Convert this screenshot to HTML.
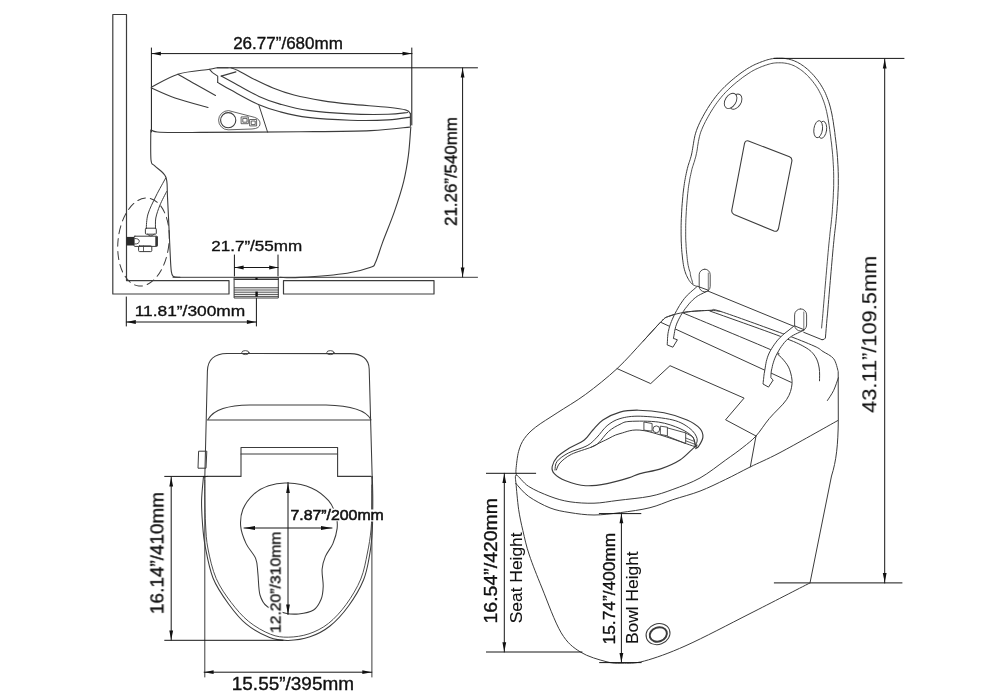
<!DOCTYPE html>
<html><head><meta charset="utf-8"><style>
html,body{margin:0;padding:0;background:#fff;}
svg{display:block;}
.t{opacity:0.999;}
</style></head><body>
<svg width="1000" height="700" viewBox="0 0 1000 700">
<g fill="none" stroke="#3c3c3c" stroke-linecap="round" stroke-linejoin="round">
<path d="M112.8 14.5 L126.5 14.5 L126.5 280.6 L229 280.6 L229 294 L112.8 294Z" stroke-width="1.2" />
<path d="M283.5 280.6 L434 280.6 L434 294 L283.5 294Z" stroke-width="1.2" />
<path d="M234.5 277.5 L278.3 277.5 L278.3 298 L234.5 298Z" stroke-width="1.0" />
<line x1="234.5" y1="279.2" x2="278.3" y2="279.2" stroke-width="1.6" />
<line x1="234.5" y1="287.8" x2="278.3" y2="287.8" stroke-width="1.0" />
<line x1="234.5" y1="290" x2="278.3" y2="290" stroke-width="0.9" />
<line x1="234.5" y1="292.2" x2="278.3" y2="292.2" stroke-width="0.9" />
<line x1="234.5" y1="294.4" x2="278.3" y2="294.4" stroke-width="0.9" />
<line x1="234.5" y1="296.4" x2="278.3" y2="296.4" stroke-width="0.9" />
<rect x="255.4" y="277.2" width="2.2" height="2.6" fill="#111" stroke="none"/>
<rect x="255.4" y="291.6" width="2.4" height="5" fill="#111" stroke="none"/>
<line x1="173" y1="277.3" x2="477.5" y2="277.3" stroke-width="1.0" />
<line x1="151.4" y1="53.6" x2="412" y2="53.6" stroke-width="1.0" stroke="#161616"/>
<path d="M151.4 53.6 L160.9 51.7 L160.9 55.5Z" fill="#111" stroke="none"/>
<path d="M412 53.6 L402.5 51.7 L402.5 55.5Z" fill="#111" stroke="none"/>
<line x1="151.4" y1="48" x2="151.4" y2="132" stroke-width="1.0" stroke="#161616"/>
<line x1="411.8" y1="48" x2="411.8" y2="125" stroke-width="1.0" stroke="#161616"/>
<line x1="217" y1="67.8" x2="477.5" y2="67.8" stroke-width="1.0" stroke="#161616"/>
<line x1="462.6" y1="68" x2="462.6" y2="277" stroke-width="1.0" stroke="#161616"/>
<path d="M462.6 68 L460.7 77.5 L464.5 77.5Z" fill="#111" stroke="none"/>
<path d="M462.6 277 L460.7 267.5 L464.5 267.5Z" fill="#111" stroke="none"/>
<path d="M151.3 87.2C155.8 85 168.3 77.2 178 74.2C187.7 71.2 203 70.4 209.5 69.3C216 68.2 213.9 68 217 67.8C220.1 67.5 226.2 67.8 228 67.8" stroke-width="1.1" />
<path d="M178 74.2C180.8 75.8 188.8 80.5 195 84C201.2 87.5 212.1 93.6 215.5 95.5" stroke-width="1.1" />
<path d="M151.3 88C155.2 89.7 165.6 94.8 175 98C184.4 101.2 202.5 105.9 208 107.5" stroke-width="1.1" />
<path d="M209.5 69.3 L212.5 72.6 L217.7 76.1 L217.7 82.4" stroke-width="1.1" />
<path d="M221.2 76.1 L235.9 71.9" stroke-width="1.1" />
<path d="M231 67.7C232.2 68.2 234.5 68.8 238 70.5C241.5 72.2 246.2 75.3 252 78.2C257.8 81.1 266 85.2 273 88C280 90.8 285.8 92.9 294 95C302.2 97.1 312.7 99.1 322 100.6C331.3 102.1 339 103 350 104.1C361 105.2 378.6 106.3 388 107.3C397.4 108.3 402.5 109 406.2 110.1C409.9 111.1 409.7 113 410.4 113.6" stroke-width="1.1" />
<path d="M221.2 76.1C224 77.6 231.7 81.8 238 85.2C244.3 88.6 252 93.2 259 96.4C266 99.6 271.8 101.8 280 104.1C288.2 106.4 296.3 108.8 308 110.4C319.7 112 336.7 113.2 350 113.9C363.3 114.6 378.4 114.5 388 114.3C397.6 114.1 404.3 112.8 407.6 112.5" stroke-width="1.1" />
<path d="M217.7 82.4C219.9 83.7 224.1 86.4 231 90.1C237.9 93.8 250.8 101.2 259 104.8C267.2 108.4 271.8 109.7 280 111.8C288.2 113.9 296.3 116 308 117.4C319.7 118.8 336.7 119.8 350 120.2C363.3 120.6 377.9 120.4 388 119.9C398.1 119.4 406.7 117.6 410.4 117.1" stroke-width="1.1" />
<line x1="410.4" y1="113.6" x2="410.4" y2="126.2" stroke-width="1.1" />
<path d="M151.3 130C152.8 130.4 151.9 131.8 160 132.2C168.1 132.6 176.7 132.5 200 132.4C223.3 132.3 271.6 132.1 300 131.8C328.4 131.5 352.4 131.4 370.7 130.6C389 129.8 403.1 127.7 409.6 127.1" stroke-width="1.1" />
<line x1="259" y1="105.5" x2="267.6" y2="132.2" stroke-width="1.0" />
<circle cx="228.2" cy="120.2" r="7.6" stroke-width="1.1"/>
<path d="M228.2 110.6 A9.6 9.6 0 0 0 228.2 129.8 L252 129 Q259.8 128.5 260 124 Q260.5 119.5 255 117.5 Z" stroke-width="0.8" />
<rect x="241.5" y="116.9" width="6.8" height="6.8" stroke-width="0.8"/>
<rect x="243.2" y="118.4" width="3.8" height="3.8" stroke-width="0.8"/>
<rect x="250" y="119.5" width="6.6" height="6.4" stroke-width="0.8"/>
<rect x="251.6" y="121" width="3.6" height="3.6" stroke-width="0.8"/>
<path d="M150.8 130C150.8 135 150.4 154.1 151 160C151.6 165.9 152.1 162.8 154.5 165.6C156.9 168.4 163.5 171.5 165.7 176.7C167.9 181.9 166.8 184.8 167.5 197C168.2 209.2 169.4 237.6 170 250C170.6 262.4 170.7 267 171.3 271.4C171.9 275.8 172.1 275.5 173.5 276.5C174.9 277.5 178.9 277.1 180 277.2" stroke-width="1.1" />
<path d="M410.8 127.1C410.4 131.8 409.6 146.4 408.4 155.4C407.2 164.4 406 171.9 403.7 181.3C401.4 190.7 397.8 201.7 394.3 211.9C390.8 222.1 385.6 234.1 382.5 242.6C379.4 251.1 377.4 258.5 375.4 262.6C373.4 266.7 375.4 265.5 370.7 267.3C366 269.1 358.9 271.5 347.1 273.2C335.3 274.9 311.2 276.7 300 277.4C288.8 278.1 283.3 277.4 280 277.4" stroke-width="1.1" />
<path d="M165.7 178C164.1 181 158.9 190 156 196C153.1 202 149.6 208.6 148 214C146.4 219.4 146.5 226.2 146.2 228.7" stroke-width="1.0" />
<path d="M166.6 191.6C165.5 193.8 161.8 200.6 160 205C158.2 209.4 156.6 214.1 155.8 218C155.1 221.9 155.6 226.9 155.5 228.7" stroke-width="1.0" />
<rect x="145.4" y="228.2" width="10.9" height="6" rx="1" stroke-width="1.0"/>
<path d="M147.5 234.2 Q150.8 238 154.2 234.2" stroke-width="0.9" />
<rect x="134.1" y="236.2" width="23.3" height="10.2" rx="0.8" stroke-width="1.0"/>
<rect x="155.3" y="236.4" width="2.2" height="9.8" fill="#333" stroke="none"/>
<path d="M134.8 238.5 Q139.3 238.5 139.3 241.2 Q139.3 244 134.8 244" stroke-width="0.9" />
<rect x="126.4" y="236.9" width="7.7" height="8.6" fill="#2a2a2a" stroke="none"/>
<rect x="138.6" y="245.9" width="13.2" height="5.7" rx="1" stroke-width="1.0"/>
<line x1="143.5" y1="246" x2="143.5" y2="251.5" stroke-width="0.8" />
<ellipse cx="143.5" cy="242" rx="25.5" ry="44.2" stroke-width="1.0" stroke-dasharray="8 5" transform="rotate(6 143.5 242)"/>
<line x1="234.4" y1="255" x2="234.4" y2="276" stroke-width="1.0" stroke="#161616"/>
<line x1="278" y1="255" x2="278" y2="276" stroke-width="1.0" stroke="#161616"/>
<line x1="234.4" y1="267.5" x2="278" y2="267.5" stroke-width="1.0" stroke="#161616"/>
<path d="M234.6 267.5 L243.6 265.4 L243.6 269.6Z" fill="#111" stroke="none"/>
<path d="M278.2 267.5 L269.2 265.4 L269.2 269.6Z" fill="#111" stroke="none"/>
<line x1="126.3" y1="297" x2="126.3" y2="326" stroke-width="1.0" stroke="#161616"/>
<line x1="256.4" y1="298.5" x2="256.4" y2="326" stroke-width="1.0" stroke="#161616"/>
<line x1="126.3" y1="322" x2="256.4" y2="322" stroke-width="1.0" stroke="#161616"/>
<path d="M126.3 322 L135.8 320.1 L135.8 323.9Z" fill="#111" stroke="none"/>
<path d="M256.4 322 L246.9 320.1 L246.9 323.9Z" fill="#111" stroke="none"/>
<path d="M204.8 478 L207.4 371 C207.8 360 214 353.8 227 353.6 L350 353.6 C362 353.8 368.8 359 369.2 369 L372.2 478" stroke-width="1.05" />
<ellipse cx="245.4" cy="352.6" rx="3.6" ry="2" stroke-width="0.9"/>
<ellipse cx="330.4" cy="352.6" rx="3.6" ry="2" stroke-width="0.9"/>
<path d="M208 419.5 C214 409 228 405.5 250 405 L326 405 C348 405.5 366 410 370.8 419.5" stroke-width="1.05" />
<line x1="207.5" y1="420" x2="370.8" y2="420" stroke-width="1.05" />
<path d="M207 476.4 L241 476.4 L241 447.5 L337.6 447.5 L337.6 476.4 L371 476.4" stroke-width="1.1" />
<line x1="241" y1="454" x2="337.6" y2="454" stroke-width="1.1" />
<path d="M199 451.2 L206.8 451.2 L206 468.2 L198.4 468.2Z" stroke-width="1.0" />
<line x1="204.8" y1="476.4" x2="204.8" y2="677" stroke-width="1.0" />
<line x1="371.9" y1="476.4" x2="371.9" y2="677" stroke-width="1.0" />
<path d="M203.5 476.4C203.2 480.3 201.8 491.9 201.6 500C201.4 508.1 202 517.2 202.6 525C203.2 532.8 203.6 538.2 205.3 547C207 555.8 209.2 568.5 213 578C216.8 587.5 222.8 596 228.4 603.7C234 611.4 239.5 618.6 246.4 624.2C253.3 629.9 262.6 634.9 269.6 637.6C276.6 640.3 281.5 640.5 288.2 640.4C294.9 640.3 303 639.2 310 636.8C317 634.4 323.6 631.1 330 626C336.4 620.9 342.9 613.7 348.5 606C354.1 598.3 360 588.5 363.5 580C367 571.5 368.1 563.3 369.6 555C371.1 546.7 371.8 539.2 372.3 530C372.8 520.8 372.8 508.9 372.8 500C372.8 491.1 372.4 480.3 372.3 476.4" stroke-width="1.05" />
<path d="M204.8 480C204.8 483.3 204.8 492.5 204.9 500C205 507.5 205.1 516.8 205.6 525C206.1 533.2 206.2 540.1 208 549C209.8 557.9 212.3 569.6 216.2 578.5C220.1 587.4 225.8 595.4 231.2 602.5C236.6 609.6 242.1 616.1 248.6 621.4C255.1 626.7 263.8 631.6 270.4 634.2C277 636.8 281.8 637.3 288.2 637.2C294.6 637.1 302.3 636.1 309 633.8C315.7 631.5 322.3 628.3 328.5 623.4C334.7 618.5 340.8 611.8 346.2 604.4C351.6 597 357.3 587.6 360.8 579C364.3 570.4 365.7 561.2 367.4 553C369.1 544.8 370.2 538 371 530C371.8 522 371.8 512.5 371.9 505C372 497.5 371.9 488.3 371.9 485" stroke-width="0.9" />
<path d="M287.9 483.1C295 483.5 304.6 485 311.4 487.9C318.2 490.8 324.5 496.1 328.6 500.7C332.7 505.3 334.7 511.1 336.1 515.7C337.5 520.4 337.6 524 337.1 528.6C336.6 533.2 334.8 539 332.9 543.6C330.9 548.2 327.2 552.1 325.4 556.4C323.6 560.7 322.5 564.3 322.1 569.3C321.7 574.3 323.4 581.4 323.2 586.4C323 591.4 322.7 595.4 321.1 599.3C319.5 603.2 317.4 607.6 313.6 610C309.9 612.4 303.2 613.4 298.6 613.9C294 614.4 290.9 614.4 285.7 613.2C280.5 612 271.8 609.8 267.5 606.8C263.2 603.8 261.6 600.5 260 595C258.4 589.5 258.6 579.7 257.9 573.6C257.2 567.5 257.7 563.6 255.7 558.6C253.7 553.6 248.6 549 246.1 543.6C243.6 538.2 241.2 532.1 240.7 526.4C240.2 520.7 240.8 514.6 242.9 509.3C245.1 504 249.3 498.2 253.6 494.3C257.9 490.4 262.9 487.6 268.6 485.7C274.3 483.8 280.8 482.7 287.9 483.1Z" stroke-width="1.05" />
<line x1="288" y1="482.5" x2="288" y2="614.6" stroke-width="1.0" stroke="#161616"/>
<path d="M288 483 L286.1 493 L289.9 493Z" fill="#111" stroke="none"/>
<path d="M288 614.5 L286.1 604.5 L289.9 604.5Z" fill="#111" stroke="none"/>
<line x1="244" y1="528" x2="332" y2="528" stroke-width="1.0" stroke="#161616"/>
<path d="M244 528 L255 526.1 L255 529.9Z" fill="#111" stroke="none"/>
<path d="M332 528 L321 526.1 L321 529.9Z" fill="#111" stroke="none"/>
<rect x="330" y="508.6" width="10" height="12.6" fill="#fff" stroke="none"/>
<rect x="268.6" y="598" width="14" height="18" fill="#fff" stroke="none"/>
<line x1="164.7" y1="476.4" x2="207" y2="476.4" stroke-width="1.0" stroke="#161616"/>
<line x1="164.7" y1="640.3" x2="283" y2="640.3" stroke-width="1.0" stroke="#161616"/>
<line x1="171.2" y1="477" x2="171.2" y2="640" stroke-width="1.0" stroke="#161616"/>
<path d="M171.2 477 L169.3 486.5 L173.1 486.5Z" fill="#111" stroke="none"/>
<path d="M171.2 640 L169.3 630.5 L173.1 630.5Z" fill="#111" stroke="none"/>
<line x1="204.1" y1="672.2" x2="371.8" y2="672.2" stroke-width="1.0" stroke="#161616"/>
<path d="M204.1 672.2 L213.6 670.3 L213.6 674.1Z" fill="#111" stroke="none"/>
<path d="M371.8 672.2 L362.3 670.3 L362.3 674.1Z" fill="#111" stroke="none"/>
<rect x="369.5" y="509.5" width="5.5" height="12" fill="#fff" stroke="none"/>
<path d="M699.2 287.2 698.5 286.9 697.8 286.7 697.1 286.4 696.4 286.2 695.7 286.0 695.0 285.7 694.3 285.4 693.6 285.1 692.9 284.7 692.3 284.2 691.5 283.4 690.7 282.5 690.0 281.6 689.2 280.5 688.5 279.3 687.8 278.1 687.2 276.9 686.6 275.6 686.0 274.3 685.5 273.0 685.0 271.4 684.5 269.8 684.1 268.1 683.7 266.4 683.4 264.6 683.1 262.8 682.9 260.9 682.6 259.0 682.4 257.0 682.2 255.0 681.9 252.4 681.7 249.7 681.5 246.8 681.4 243.9 681.2 241.0 681.2 238.0 681.1 234.9 681.1 231.9 681.1 228.8 681.1 225.7 681.2 222.2 681.3 218.6 681.5 214.9 681.7 211.2 681.9 207.4 682.2 203.7 682.5 200.1 682.8 196.5 683.1 193.2 683.5 190.0 683.8 187.7 684.1 185.6 684.4 183.5 684.7 181.4 685.1 179.4 685.4 177.5 685.8 175.6 686.2 173.7 686.6 171.8 687.0 170.0 687.4 168.4 687.8 166.9 688.2 165.4 688.7 164.0 689.1 162.6 689.6 161.2 690.1 159.7 690.5 158.2 691.0 156.6 691.4 155.0 691.9 152.8 692.3 150.5 692.7 148.2 693.1 145.7 693.5 143.2 693.9 140.7 694.4 138.2 694.9 135.7 695.6 133.2 696.4 130.7 697.4 128.0 698.6 125.2 699.9 122.3 701.3 119.5 702.8 116.7 704.3 113.9 705.9 111.2 707.5 108.5 709.1 106.0 710.7 103.6 712.0 101.7 713.4 99.8 714.7 98.0 716.1 96.2 717.4 94.6 718.8 92.9 720.3 91.3 721.8 89.6 723.4 88.0 725.0 86.4 726.9 84.6 729.0 82.7 731.1 80.8 733.3 79.0 735.5 77.2 737.8 75.4 740.0 73.7 742.2 72.1 744.3 70.7 746.4 69.3 747.9 68.3 749.4 67.5 750.9 66.6 752.3 65.8 753.8 65.1 755.2 64.4 756.6 63.8 758.1 63.2 759.5 62.6 761.0 62.0 762.4 61.5 763.8 61.0 765.3 60.5 766.7 60.0 768.1 59.6 769.5 59.3 771.0 58.9 772.4 58.7 773.9 58.4 775.4 58.3 777.0 58.2 778.6 58.2 780.2 58.2 781.9 58.2 783.5 58.3 785.2 58.5 786.8 58.8 788.5 59.1 790.1 59.5 791.6 59.9 793.1 60.4 794.6 61.0 796.1 61.7 797.6 62.4 799.0 63.2 800.5 64.0 801.9 65.0 803.3 65.9 804.6 66.9 806.0 68.0 807.6 69.3 809.1 70.7 810.7 72.2 812.2 73.8 813.7 75.4 815.1 77.1 816.5 78.8 817.9 80.6 819.2 82.4 820.4 84.2 821.5 86.0 822.6 87.8 823.6 89.7 824.6 91.5 825.5 93.4 826.3 95.4 827.1 97.4 827.9 99.5 828.7 101.7 829.4 104.0 830.3 107.1 831.1 110.5 831.9 114.0 832.5 117.6 833.2 121.3 833.7 125.1 834.3 128.9 834.8 132.6 835.2 136.4 835.7 140.0 836.1 143.5 836.5 147.0 836.9 150.5 837.2 154.0 837.5 157.5 837.7 161.0 837.9 164.5 838.1 168.0 838.2 171.5 838.3 175.0 838.3 178.5 838.3 182.0 838.3 185.5 838.2 189.0 838.0 192.5 837.9 196.0 837.7 199.5 837.5 203.0 837.2 206.5 837.0 210.0 836.7 213.4 836.4 216.8 836.1 220.2 835.8 223.5 835.4 226.9 835.0 230.2 834.6 233.7 834.2 237.1 833.9 240.7 833.5 244.3 833.1 248.6 832.7 253.0 832.3 257.5 831.9 262.1 831.5 266.7 831.1 271.3 830.7 276.0 830.3 280.7 829.9 285.4 829.5 290.0 829.1 294.8 828.7 299.5 828.3 304.3 827.9 309.1 827.5 313.9 827.0 318.7 826.6 323.6 826.2 328.4 825.8 333.2 825.4 338.0 Q824.8 339.8 822 339.7" stroke-width="1.0" />
<path d="M692.9 283.8 692.5 282.5 692.2 281.1 691.8 279.8 691.4 278.5 691.0 277.3 690.7 276.0 690.4 274.8 690.3 273.6 690.2 272.4 689.8 271.4 689.3 270.0 688.9 268.6 688.6 267.1 688.2 265.5 687.9 263.9 687.7 262.1 687.4 260.3 687.2 258.4 687.0 256.5 686.8 254.5 686.5 252.0 686.3 249.3 686.1 246.6 686.0 243.7 685.8 240.8 685.7 237.9 685.7 234.9 685.7 231.8 685.7 228.8 685.7 225.8 685.8 222.4 685.9 218.8 686.1 215.1 686.3 211.4 686.5 207.7 686.8 204.1 687.1 200.5 687.4 197.0 687.7 193.7 688.1 190.5 688.3 188.3 688.6 186.2 688.9 184.2 689.3 182.2 689.6 180.2 689.9 178.3 690.3 176.5 690.7 174.7 691.1 172.8 691.5 171.1 691.8 169.6 692.2 168.2 692.6 166.8 693.1 165.4 693.5 164.0 694.0 162.6 694.5 161.1 694.9 159.5 695.4 157.9 695.9 156.1 696.4 153.7 696.9 151.3 697.3 148.9 697.6 146.4 698.0 144.0 698.4 141.5 698.9 139.1 699.4 136.8 700.0 134.5 700.7 132.2 701.7 129.7 702.8 127.0 704.1 124.3 705.4 121.6 706.9 118.9 708.4 116.2 709.9 113.5 711.4 111.0 713.0 108.5 714.5 106.2 715.8 104.3 717.1 102.5 718.4 100.8 719.7 99.1 721.0 97.5 722.3 95.9 723.7 94.4 725.1 92.8 726.6 91.3 728.2 89.7 730.1 87.9 732.0 86.1 734.1 84.3 736.2 82.5 738.4 80.8 740.6 79.1 742.7 77.4 744.9 75.9 746.9 74.5 748.9 73.2 750.3 72.3 751.7 71.4 753.1 70.6 754.5 69.9 755.8 69.2 757.2 68.6 758.5 68.0 759.8 67.4 761.2 66.8 762.6 66.3 764.0 65.8 765.3 65.3 766.7 64.9 768.0 64.4 769.3 64.1 770.6 63.7 771.9 63.4 773.2 63.2 774.5 63.0 775.8 62.9 777.2 62.8 778.6 62.8 780.1 62.8 781.6 62.8 783.1 62.9 784.6 63.1 786.1 63.3 787.5 63.6 788.9 63.9 790.2 64.3 791.5 64.7 792.9 65.3 794.2 65.8 795.5 66.5 796.7 67.2 798.0 68.0 799.3 68.8 800.6 69.7 801.9 70.6 803.1 71.6 804.5 72.8 806.0 74.1 807.4 75.5 808.8 76.9 810.2 78.5 811.6 80.1 812.9 81.7 814.2 83.4 815.4 85.0 816.5 86.7 817.6 88.4 818.6 90.1 819.5 91.8 820.4 93.6 821.3 95.3 822.1 97.2 822.8 99.1 823.6 101.1 824.3 103.2 825.0 105.3 825.8 108.3 826.6 111.5 827.3 114.9 828.0 118.4 828.6 122.0 829.2 125.7 829.7 129.5 830.2 133.2 830.7 136.9 831.1 140.6 831.6 144.0 831.9 147.5 832.3 151.0 832.6 154.4 832.9 157.9 833.1 161.3 833.3 164.8 833.5 168.2 833.6 171.6 833.7 175.1 833.7 178.5 833.7 182.0 833.7 185.4 833.6 188.9 833.4 192.3 833.3 195.8 833.1 199.3 832.9 202.7 832.6 206.2 832.4 209.7 832.2 213.0 831.9 216.4 831.5 219.7 831.2 223.0 830.8 226.4 830.4 229.7 830.0 233.1 829.7 236.6 829.3 240.2 828.9 243.9 828.5 248.2 828.1 252.6 827.7 257.1 827.3 261.7 826.9 266.3 826.5 270.9 826.1 275.6 825.7 280.3 825.3 285.0 824.9 289.6 824.5 294.4 824.1 299.1 823.7 303.9 823.3 308.7 822.9 313.5 822.5 318.4 822.0 323.2 821.6 328.0" stroke-width="0.9" />
<line x1="708.3" y1="291.2" x2="794.6" y2="326.6" stroke-width="1.0" />
<line x1="803.7" y1="332.3" x2="822" y2="339.7" stroke-width="1.0" />
<path d="M748.5 141 L789.5 156.8 Q792.5 158 791.8 161.5 L778.5 228.5 Q777.5 232 774 231 L734 214.5 Q731.2 213.2 731.8 210 L744.5 143.5 Q745.5 140 748.5 141 Z" stroke-width="1.1" />
<ellipse cx="735.6" cy="101.6" rx="5.4" ry="8.3" transform="rotate(32 735.6 101.6)" fill="#fff" stroke-width="0.9"/>
<ellipse cx="730.6" cy="100.8" rx="5.4" ry="8.3" transform="rotate(32 730.6 100.8)" fill="#fff" stroke-width="0.9"/>
<ellipse cx="822.3" cy="129.8" rx="4.3" ry="8.6" transform="rotate(8 822.3 129.8)" fill="#fff" stroke-width="0.9"/>
<ellipse cx="818.2" cy="129.2" rx="4.3" ry="8.6" transform="rotate(8 818.2 129.2)" fill="#fff" stroke-width="0.9"/>
<line x1="774" y1="58.4" x2="904" y2="58.4" stroke-width="1.0" stroke="#161616"/>
<line x1="774.3" y1="582.9" x2="902" y2="582.9" stroke-width="1.0" stroke="#161616"/>
<line x1="884.7" y1="59" x2="884.7" y2="583" stroke-width="1.0" stroke="#161616"/>
<path d="M884.7 59 L882.8 68.5 L886.6 68.5Z" fill="#111" stroke="none"/>
<path d="M884.7 582.5 L882.8 573 L886.6 573Z" fill="#111" stroke="none"/>
<path d="M516.4 475C516.3 474.1 515.6 473.2 516 469.3C516.4 465.4 517.2 456.5 518.6 451.4C520 446.3 521.4 442.7 524.3 438.6C527.1 434.6 530.2 431.4 535.7 427.1C541.2 422.8 548.8 418.4 557.1 412.9C565.4 407.4 575.7 401.7 585.7 394.3C595.7 386.9 607.6 377.4 617.1 368.6C626.6 359.8 635.5 349.3 642.9 341.4C650.3 333.5 657.1 325.6 661.4 321.4C665.7 317.2 664.5 317.9 668.6 316.4C672.7 314.8 678.8 313.1 685.7 312.1C692.6 311.1 703.9 310.5 709.8 310.4C715.6 310.3 708.7 307.6 720.8 311.5C732.9 315.4 766.9 327.8 782.4 333.5C797.9 339.2 807.2 343 814 346C820.8 349 819.7 349.4 823 351.5C826.3 353.6 831.2 355.5 833.7 358.8C836.2 362.1 837.5 369.3 838.2 371.4 L838.3 420 C838.1 445 836.3 461 831.5 476 L810 582.9" stroke-width="1.0" />
<path d="M709.8 311C721.5 315.2 764.4 330.3 780.2 336.3C796.1 342.3 799.1 343.8 804.9 347.1C810.7 350.4 812.7 352.8 815.1 356.3C817.5 359.8 818.5 363.9 819.2 368C819.9 372.1 819.5 378.7 819.5 380.8" stroke-width="1.0" />
<path d="M617.1 368.6 L650.7 383.6 L670 365.7 L744.1 398.1 L725.6 419.8 L756 436" stroke-width="1.0" />
<line x1="756" y1="436" x2="750.3" y2="466.9" stroke-width="1.0" />
<line x1="661.4" y1="322.6" x2="791.3" y2="382.4" stroke-width="1.0" />
<path d="M682.9 312.9C697.5 319 754.4 342.6 770.3 349.5C786.1 356.4 775.7 352.6 778 354.5C780.3 356.4 782.3 358.3 784.3 360.9C786.2 363.4 788.4 365.9 789.7 369.8C791 373.7 792.5 379 792 384C791.5 389 790.3 393.9 786.5 399.7C782.7 405.4 774.4 412.4 769.3 418.5C764.2 424.6 760.4 431.2 756 436C751.6 440.8 747.9 443.4 742.9 447.4C737.9 451.4 732.9 454.9 725.7 460C718.6 465.1 708.8 473.1 700 478C691.2 482.9 681.2 486.3 672.9 489.4C664.6 492.4 659.1 494.5 650 496.3C640.9 498.1 627.3 499.2 618 500.4C608.7 501.5 602 503 594 503.2C586 503.4 577.3 502.9 570 501.8C562.7 500.7 556.9 499 550 496.4C543.1 493.8 534.2 490 528.6 486.4C523 482.8 518.5 475.5 516.4 475C514.3 474.5 516.1 482.2 516 483.6" stroke-width="1.0" />
<path d="M838.4 377.7C837.6 379.8 835.5 386.5 833.7 390.3C831.9 394.1 828.5 398.8 827.4 400.5" stroke-width="1.0" />
<path d="M516 483.6C518.1 485.7 522.9 492.3 528.6 496.4C534.3 500.4 543.1 505.2 550 507.9C556.9 510.6 562.7 511.4 570 512.6C577.3 513.8 585.6 515 594 515C602.4 515 611.1 513.8 620.4 512.6C629.7 511.4 641.2 509.9 650 507.7C658.8 505.5 664.6 502.5 672.9 499.7C681.2 496.9 691.2 494.5 700 491.1C708.8 487.7 717.3 483.4 725.7 479.4C734.1 475.4 741.2 471.4 750.3 466.9C759.3 462.4 765.4 460.3 780 452.6C794.6 444.9 828.1 425.9 837.7 420.6" stroke-width="1.0" />
<path d="M516 483.6C516.4 487.9 517.5 501.4 518.6 509.3C519.8 517.1 521.1 523.1 522.9 530.7C524.7 538.3 526.1 545.5 529.3 555C532.5 564.5 536.7 575 542 588C547.3 601 554.8 622.1 561.2 632.8C567.6 643.5 572.9 647.2 580.4 652C587.9 656.8 599.1 659.7 606 661.6C612.9 663.5 615.6 663.3 622 663.2C628.4 663.1 633.7 663.9 644.4 661C655.1 658.1 668.4 653.5 686 645.6C703.6 637.7 729.3 624.1 750 613.6C770.7 603.1 800 588 810 582.9" stroke-width="1.0" />
<path d="M555 470C555.4 468.6 554.8 464.2 557.1 461.4C559.4 458.5 563.6 455.5 568.6 452.9C573.6 450.3 582.4 448.3 587.1 445.7C591.9 443.1 593.8 440.4 597.1 437.1C600.4 433.8 603.3 428.8 607.1 425.7C610.9 422.6 614.5 420.2 620 418.6C625.5 417 631.4 416 640.2 416.2C649 416.4 664.6 417.9 672.9 420C681.2 422.1 686 425.5 690 428.6C694 431.7 696.3 435.5 697.1 438.6C697.9 441.7 695.4 445.7 695 447.1" stroke-width="1.0" />
<path d="M556.4 470C557 468.8 557.5 465.5 560 462.9C562.5 460.3 566.2 456.9 571.4 454.3C576.6 451.7 586.9 449 591.4 447.1C595.9 445.2 595.7 445.5 598.6 442.9C601.5 440.3 605 434.5 608.6 431.4C612.2 428.3 616.4 426 620 424.3C623.6 422.6 623.6 421.8 630 421.4C636.4 421 650.3 420.9 658.6 422.1C666.9 423.3 674.3 426.1 680 428.6C685.7 431.1 690.4 434.2 692.9 437.1C695.4 440 694.6 444.5 695 446" stroke-width="1.0" />
<path d="M697.1 445C696.4 445.6 695.8 446.1 692.9 448.6C690 451.1 685.2 456.7 680 460C674.8 463.3 668.1 466.3 661.4 468.6C654.7 470.9 645.5 472.1 640 473.6C634.5 475.2 634.1 476.2 628.6 477.9C623.1 479.6 614.2 482.3 607.1 483.6C600 484.9 592.6 486.2 585.7 485.7C578.8 485.2 570.9 482.7 565.7 480.7C560.5 478.7 556.5 476 554.3 473.6C552 471.2 551.7 469.2 552.2 466.5C552.7 463.8 554.4 460.1 557.1 457.1C559.8 454.1 564.1 451.5 568.6 448.6C573.1 445.8 580.2 443.1 584.3 440C588.3 436.9 589.8 433.3 592.9 430C596 426.7 598.4 423 602.9 420C607.4 417 614.1 413.7 620 412.1C625.9 410.5 631.2 410.1 638.5 410.2C645.8 410.3 655.9 411.2 664 412.8C672.1 414.4 681.1 417.4 687.1 420C693.1 422.6 697.4 425.8 700 428.6C702.6 431.5 703.1 434.1 702.9 437.1C702.7 440.1 699.8 444.5 698.6 446.4C697.4 448.3 696.2 448.2 695.7 448.6" stroke-width="1.15" />
<path d="M591.4 447.1C593.8 445.9 600.9 442.2 605.7 440C610.5 437.8 613.6 435.2 620 433.6C626.4 432.1 631.6 428.4 644.3 430.7C657 432.9 687.7 444.4 696.4 447.1" stroke-width="1.0" />
<path d="M644.3 422.1 L652.1 423.5 L652.1 431.2 L644.3 430.2Z" stroke-width="0.9" />
<circle cx="656.4" cy="429.3" r="3.4" stroke-width="0.9"/>
<path d="M660.7 426.2 L667.4 427.2 L667.4 435.8 L660.7 434.5Z" stroke-width="0.9" />
<path d="M667.4 427.9 L685.7 432.9 L685.7 443.6 L667.4 436.2" stroke-width="0.9" />
<path d="M685.7 432.9 L693 437 L696.4 447.1" stroke-width="0.9" />
<line x1="685.7" y1="438" x2="694.5" y2="441.5" stroke-width="0.8" />
<line x1="685.7" y1="440.8" x2="695.5" y2="444.5" stroke-width="0.8" />
<path d="M697.0 286.5 695.4 288.0 693.8 289.4 692.1 290.8 690.5 292.3 688.9 293.7 687.3 295.2 685.8 296.9 684.3 298.6 682.7 300.8 681.1 303.1 679.5 305.5 678.0 308.1 676.6 310.6 675.2 313.2 674.0 315.7 672.9 318.0 672.1 319.8 671.4 321.5 670.7 323.3 670.1 324.9 669.6 326.6 669.1 328.3 668.7 330.0 668.3 331.7 668.0 333.3 667.8 335.0 667.7 336.6 667.5 338.3 667.5 339.9 667.4 341.6 667.3 343.2 667.2 344.9 L672.9 347.2 L677.4 339.8 L674 338.6 L673.4 338.6 L673.7 336.9 L674.0 335.2 L674.3 333.5 L674.6 331.7 L674.9 330.0 L675.3 328.3 L675.7 326.6 L676.3 324.9 L677.0 323.0 L677.9 321.1 L678.8 319.2 L679.8 317.3 L680.8 315.4 L681.9 313.6 L683.1 311.8 L684.3 310.0 L685.5 308.3 L686.9 306.6 L688.2 304.9 L689.6 303.2 L691.1 301.6 L692.6 300.1 L694.1 298.7 L695.7 297.4 L697.2 296.3 L698.7 295.4 L700.3 294.5 L702.0 293.7 L703.6 292.9 L705.2 292.2 L706.9 291.4 L708.5 290.6Z" fill="#fff" stroke-width="1.0"/>
<path d="M794.0 326.0 792.0 327.6 790.0 329.2 788.0 330.8 786.0 332.3 784.0 333.9 782.1 335.6 780.3 337.3 778.6 339.1 777.0 340.9 775.6 342.8 774.1 344.8 772.8 346.8 771.5 348.8 770.3 350.9 769.2 353.0 768.3 355.1 767.5 357.2 766.9 359.3 766.3 361.4 765.9 363.6 765.5 365.8 765.2 367.9 764.8 370.0 764.5 372.0 764.2 373.6 764.0 375.1 763.8 376.6 763.7 378.1 763.5 379.6 763.3 381.0 763.2 382.5 763.0 384.0 L768.5 387.1 L773.2 380 L770.8 377.7 L770.8 377.7 L770.9 376.8 L770.9 375.8 L771.0 374.9 L771.0 374.0 L771.1 373.1 L771.2 372.1 L771.3 371.1 L771.5 370.0 L771.9 368.4 L772.3 366.6 L772.7 364.7 L773.3 362.8 L773.9 360.8 L774.6 358.9 L775.4 357.0 L776.3 355.1 L777.4 353.0 L778.6 350.9 L779.9 348.7 L781.3 346.6 L782.8 344.6 L784.3 342.6 L786.0 340.8 L787.7 339.1 L789.5 337.7 L791.4 336.4 L793.4 335.2 L795.5 334.1 L797.7 333.1 L799.8 332.1 L801.9 331.1 L804.0 330.0Z" fill="#fff" stroke-width="1.0"/>
<path d="M642.9 341.4C646 338.1 657.1 325.6 661.4 321.4C665.7 317.2 664.5 317.9 668.6 316.4C672.7 314.8 678.8 313.1 685.7 312.1C692.6 311.1 703.9 310.5 709.8 310.4C715.6 310.3 719 311.3 720.8 311.5" stroke-width="1.0" />
<rect x="699.2" y="269.2" width="11.0" height="22.6" rx="5.5" stroke-width="0.9"/>
<line x1="708.3" y1="273" x2="708.3" y2="289" stroke-width="0.7" />
<rect x="794.6" y="308.9" width="12.0" height="22.1" rx="6.0" stroke-width="0.9"/>
<line x1="803.8" y1="312" x2="803.8" y2="329" stroke-width="0.7" />
<line x1="486.4" y1="473.3" x2="535.7" y2="473.3" stroke-width="1.0" stroke="#161616"/>
<line x1="486.4" y1="652" x2="582" y2="652" stroke-width="1.0" stroke="#161616"/>
<line x1="504.3" y1="473.3" x2="504.3" y2="652" stroke-width="1.0" stroke="#161616"/>
<path d="M504.3 473.5 L502.4 483 L506.2 483Z" fill="#111" stroke="none"/>
<path d="M504.3 651.8 L502.4 642.3 L506.2 642.3Z" fill="#111" stroke="none"/>
<line x1="599.3" y1="513.6" x2="640.9" y2="513.6" stroke-width="1.0" stroke="#161616"/>
<line x1="599.6" y1="662.6" x2="641.2" y2="662.6" stroke-width="1.0" stroke="#161616"/>
<line x1="621.4" y1="513.6" x2="621.4" y2="662.6" stroke-width="1.0" stroke="#161616"/>
<path d="M621.4 513.8 L619.5 523.3 L623.3 523.3Z" fill="#111" stroke="none"/>
<path d="M621.4 662.4 L619.5 652.9 L623.3 652.9Z" fill="#111" stroke="none"/>
<ellipse cx="658" cy="634.1" rx="12.2" ry="10.3" transform="rotate(-20 658 634.1)" stroke-width="1.0"/>
<ellipse cx="658.3" cy="634.4" rx="8.8" ry="7.0" transform="rotate(-20 658.3 634.4)" stroke-width="2.0"/>
</g>
<g class="t" fill="#111" stroke="#111" font-family="Liberation Sans, sans-serif">
<text transform="translate(233.15 48.80) scale(1.0837 1)" font-size="15.71" font-weight="normal" stroke-width="0.35">26.77”/680mm</text>
<text transform="translate(456.70 225.00) rotate(-90) translate(-0.84 0) scale(1.0835 1)" font-size="15.57" font-weight="normal" stroke-width="0.35">21.26”/540mm</text>
<text transform="translate(211.15 251.00) scale(1.1076 1)" font-size="15.43" font-weight="normal" stroke-width="0.35">21.7”/55mm</text>
<text transform="translate(134.70 316.10) scale(1.1257 1)" font-size="15.43" font-weight="normal" stroke-width="0.35">11.81”/300mm</text>
<text transform="translate(290.41 520.10) scale(1.0676 1)" font-size="14.86" font-weight="normal" stroke-width="0.55">7.87”/200mm</text>
<text transform="translate(280.50 632.00) rotate(-90) translate(-1.18 0) scale(1.1377 1)" font-size="13.86" font-weight="normal" stroke-width="0.35">12.20”/310mm</text>
<text transform="translate(163.40 612.60) rotate(-90) translate(-1.42 0) scale(1.0857 1)" font-size="17.43" font-weight="normal" stroke-width="0.35">16.14”/410mm</text>
<text transform="translate(231.78 689.50) scale(1.0884 1)" font-size="17.43" font-weight="normal" stroke-width="0.35">15.55”/395mm</text>
<text transform="translate(876.30 412.30) rotate(-90) translate(-0.55 0) scale(1.0685 1)" font-size="20.43" font-weight="normal" stroke-width="0.1">43.11”/109.5mm</text>
<text transform="translate(496.50 622.00) rotate(-90) translate(-1.46 0) scale(1.1175 1)" font-size="17.43" font-weight="normal" stroke-width="0.35">16.54”/420mm</text>
<text transform="translate(522.00 622.50) rotate(-90) translate(-0.78 0) scale(1.0417 1)" font-size="16.71" font-weight="normal" stroke-width="0.1">Seat Height</text>
<text transform="translate(614.70 643.10) rotate(-90) translate(-1.30 0) scale(1.0625 1)" font-size="16.29" font-weight="normal" stroke-width="0.35">15.74”/400mm</text>
<text transform="translate(637.80 642.60) rotate(-90) translate(-1.39 0) scale(1.0667 1)" font-size="16.29" font-weight="normal" stroke-width="0.1">Bowl Height</text>
</g>
</svg>
</body></html>
